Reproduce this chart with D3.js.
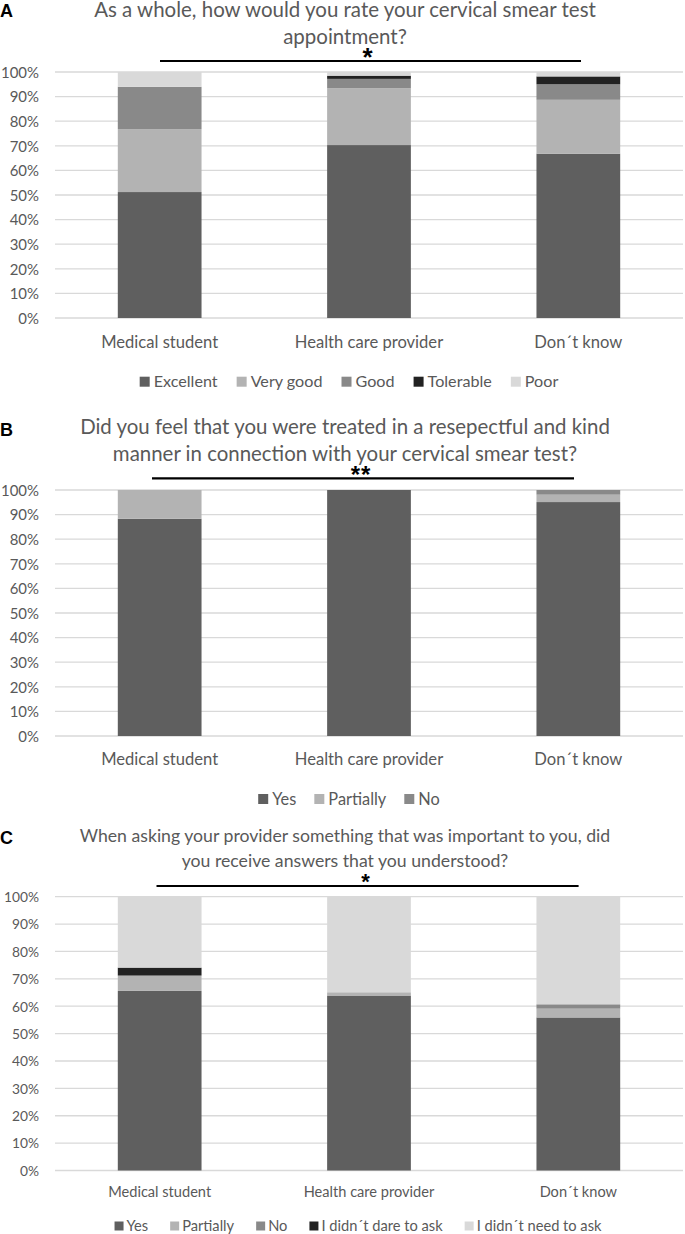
<!DOCTYPE html>
<html><head><meta charset="utf-8">
<script src="https://cdn.jsdelivr.net/npm/d3@7"></script>
<style>
html,body{margin:0;padding:0;background:#fff;}
svg{display:block;}
</style>
</head><body>
<svg id="chart" width="685" height="1234"></svg>
<script>
// ---------- DATA ----------
const categories = ["Medical student", "Health care provider", "Don\u00b4t know"];
const yTicks = [0, 10, 20, 30, 40, 50, 60, 70, 80, 90, 100];

// Panel A
const titleA = ["As a whole, how would you rate your cervical smear test", "appointment?"];
const seriesA = ["Excellent", "Very good", "Good", "Tolerable", "Poor"];
const excellentA = [51.2, 70.3, 66.8];
const veryGoodA  = [25.6, 23.1, 21.9];
const goodA      = [17.2, 3.8, 6.3];
const tolerableA = [0.0, 1.3, 3.2];
const poorA      = [6.0, 1.5, 1.8];
const sigA = "*";

// Panel B
const titleB = ["Did you feel that you were treated in a resepectful and kind", "manner in connection with your cervical smear test?"];
const seriesB = ["Yes", "Partially", "No"];
const yesB       = [88.3, 100.0, 95.1];
const partiallyB = [11.7, 0.0, 3.0];
const noB        = [0.0, 0.0, 1.9];
const sigB = "**";

// Panel C
const titleC = ["When asking your provider something that was important to you, did", "you receive answers that you understood?"];
const seriesC = ["Yes", "Partially", "No", "I didn\u00b4t dare  to ask", "I didn\u00b4t need to ask"];
const yesC       = [65.6, 63.9, 55.9];
const partiallyC = [5.6, 1.2, 3.2];
const noC        = [0.0, 0.0, 1.6];
const dareC      = [2.9, 0.0, 0.0];
const needC      = [25.9, 34.9, 39.3];
const sigC = "*";

// ---------- STYLE ----------
const colorsA = ["#5f5f5f", "#b3b3b3", "#898989", "#222222", "#d9d9d9"];
const colorsB = ["#5f5f5f", "#b3b3b3", "#898989"];
const colorsC = ["#5f5f5f", "#b3b3b3", "#898989", "#222222", "#d9d9d9"];
const FONT = "Lato, 'Open Sans', sans-serif";
const TXT = "#595959";

const svg = d3.select("#chart");

const meas = svg.append("text").attr("font-family", FONT).attr("font-size", 100).attr("visibility", "hidden");
function sizeFor(str, target) {
  meas.text(str);
  const w = meas.node().getComputedTextLength();
  return 100 * target / w;
}
function widthOf(str, size) {
  meas.attr("font-size", size).text(str);
  const w = meas.node().getComputedTextLength();
  meas.attr("font-size", 100);
  return w;
}

function panel(p) {
  const g = svg.append("g");
  const x = d3.scaleBand().domain(categories).range([55, 683]).paddingInner(0.6).paddingOuter(0.3);
  const y = d3.scaleLinear().domain([0, 100]).range([p.y0, p.y100]);

  g.append("text").attr("x", 0).attr("y", p.letterY)
    .attr("font-family", "'Liberation Sans', Arial, sans-serif").attr("font-weight", "bold")
    .attr("font-size", 18).attr("fill", "#000").text(p.letter);

  const ts = sizeFor(p.title[0], p.titleW);
  p.title.forEach((t, i) => {
    g.append("text").attr("x", 345).attr("y", p.titleY[i]).attr("text-anchor", "middle")
      .attr("font-family", FONT).attr("font-size", ts).attr("fill", TXT).text(t);
  });

  const yAxis = d3.axisLeft(y).tickValues(yTicks).tickFormat(d => d + "%").tickSize(0).tickPadding(0);
  const ax = g.append("g").attr("transform", "translate(39,0)").call(yAxis);
  ax.select(".domain").remove();
  const tk = sizeFor("100%", p.tickW);
  ax.selectAll("text").attr("font-family", FONT).attr("font-size", tk).attr("fill", TXT).attr("dy", "0.35em");
  g.append("g").selectAll("line").data(yTicks).join("line")
    .attr("x1", 55).attr("x2", 683).attr("y1", d => y(d)).attr("y2", d => y(d))
    .attr("stroke", "#d9d9d9").attr("stroke-width", 1.3);

  const rows = categories.map((c, i) => {
    const r = { cat: c };
    p.series.forEach((s, k) => r[s] = p.values[k][i]);
    return r;
  });
  const stack = d3.stack().keys(p.series)(rows);
  g.append("g").selectAll("g").data(stack).join("g")
    .attr("fill", (d, k) => p.colors[k])
    .selectAll("rect").data(d => d).join("rect")
    .attr("x", d => x(d.data.cat)).attr("width", x.bandwidth())
    .attr("y", d => y(d[1])).attr("height", d => Math.max(0, y(d[0]) - y(d[1])));

  const xs = sizeFor(categories[0], p.xlabW);
  g.append("g").selectAll("text").data(categories).join("text")
    .attr("x", d => x(d) + x.bandwidth() / 2).attr("y", p.labelY).attr("dy", "0.35em")
    .attr("text-anchor", "middle").attr("font-family", FONT).attr("font-size", xs).attr("fill", TXT)
    .text(d => d);

  g.append("line").attr("x1", p.sigX[0]).attr("x2", p.sigX[1]).attr("y1", p.sigY).attr("y2", p.sigY)
    .attr("stroke", "#000").attr("stroke-width", 2.2);
  g.append("text").attr("x", (p.sigX[0] + p.sigX[1]) / 2 + p.starDx).attr("y", p.starY + 0.56 * p.starSize)
    .attr("text-anchor", "middle").attr("font-family", "'Liberation Sans', Arial, sans-serif")
    .attr("font-weight", "bold").attr("font-size", p.starSize).attr("fill", "#000")
    .attr("letter-spacing", p.starSpacing).text(p.sig);

  const ls = sizeFor(p.legRef, p.legRefW);
  const items = p.series.map((s, k) => ({ s, k, w: widthOf(s, ls) }));
  const total = d3.sum(items, d => p.sq + p.sqGap + d.w) + p.itemGap * (items.length - 1);
  let cx = p.legCenter - total / 2;
  const lg = g.append("g");
  items.forEach(d => {
    lg.append("rect").attr("x", cx).attr("y", p.legendY - p.sq / 2).attr("width", p.sq).attr("height", p.sq)
      .attr("fill", p.colors[d.k]);
    lg.append("text").attr("x", cx + p.sq + p.sqGap).attr("y", p.legendY).attr("dy", "0.35em")
      .attr("font-family", FONT).attr("font-size", ls).attr("fill", TXT).text(d.s);
    cx += p.sq + p.sqGap + d.w + p.itemGap;
  });
}

panel({
  letter: "A", letterY: 17, title: titleA, titleW: 502, titleY: [17, 44],
  series: seriesA, values: [excellentA, veryGoodA, goodA, tolerableA, poorA], colors: colorsA,
  y0: 318, y100: 72, tickW: 38, xlabW: 117, labelY: 341.7,
  sig: sigA, sigX: [160, 581], sigY: 61, starY: 51, starDx: -3, starSize: 26, starSpacing: 0,
  legRef: "Excellent", legRefW: 64, legendY: 381.7, sq: 10, sqGap: 4, itemGap: 19, legCenter: 349
});
panel({
  letter: "B", letterY: 436, title: titleB, titleW: 530, titleY: [434, 461],
  series: seriesB, values: [yesB, partiallyB, noB], colors: colorsB,
  y0: 736, y100: 490, tickW: 38, xlabW: 117, labelY: 759,
  sig: sigB, sigX: [152, 574], sigY: 478.3, starY: 470, starDx: -2, starSize: 24, starSpacing: 1,
  legRef: "Partially", legRefW: 58, legendY: 799, sq: 10, sqGap: 4, itemGap: 18, legCenter: 349
});
panel({
  letter: "C", letterY: 844, title: titleC, titleW: 531, titleY: [842, 867],
  series: seriesC, values: [yesC, partiallyC, noC, dareC, needC], colors: colorsC,
  y0: 1170.5, y100: 896.7, tickW: 35, xlabW: 103, labelY: 1191.7,
  sig: sigC, sigX: [156.5, 578.6], sigY: 886, starY: 877, starDx: -2, starSize: 22, starSpacing: 0,
  legRef: "Partially", legRefW: 52, legendY: 1226, sq: 9, sqGap: 3, itemGap: 22, legCenter: 358
});
meas.remove();
</script>
</body></html>
